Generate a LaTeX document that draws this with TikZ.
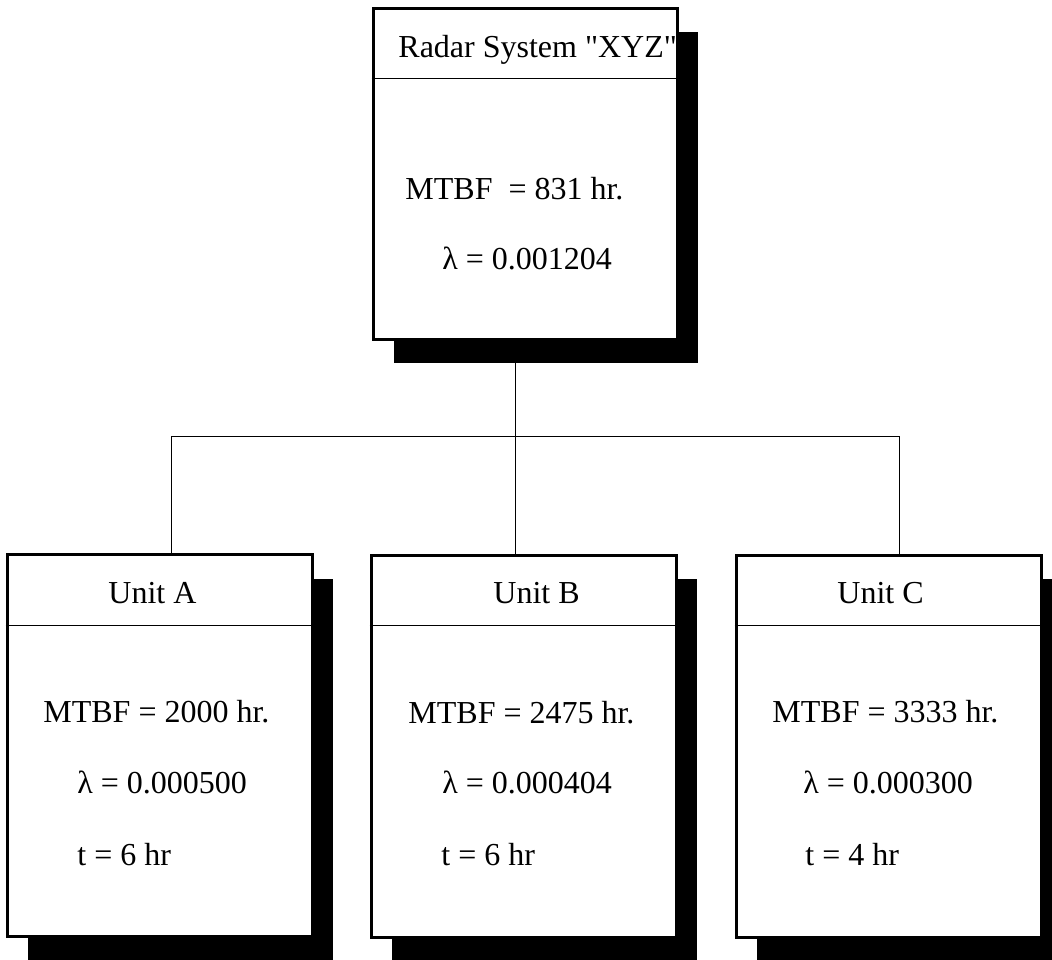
\documentclass[tikz,border=0pt]{standalone}
\usepackage{fontspec}
\setmainfont{Liberation Serif}
\usetikzlibrary{shadows}
% straight double quote, set as a glyph so no ligature mapping curls it
\newcommand\straightdq{\XeTeXglyph\XeTeXcharglyph"22\relax}
\begin{document}
\begin{tikzpicture}[x=0.5pt,y=-0.5pt,
  unitbox/.style={draw=black, line width=1.5pt, fill=white, rectangle,
    inner sep=0pt, minimum width=152.5pt, minimum height=191pt,
    general shadow={fill=black, shadow xshift=10.5pt, shadow yshift=-12pt}},
  sysbox/.style={unitbox, minimum width=152pt, minimum height=165.5pt},
  divider/.style={line width=0.5pt},
  link/.style={line width=0.5pt},
  txt/.style={anchor=base west, inner sep=0pt, font=\fontsize{16}{19}\selectfont}]
\useasboundingbox (0,0) rectangle (1052,959);

% boxes
\node[sysbox]  (sys) at (525,173.5) {};
\node[unitbox] (ua)  at (159.5,745.5) {};
\node[unitbox] (ub)  at (523.5,746) {};
\node[unitbox] (uc)  at (888.5,746) {};

% title separators
\foreach \b in {sys,ua,ub,uc}
  \draw[divider] ([yshift=-36pt]\b.north west) -- ([yshift=-36pt]\b.north east);

% tree connectors
\coordinate (hub) at (515,436);
\coordinate (ja)  at (171,436);
\coordinate (jc)  at (899,436);
\draw[link] (hub |- sys.south) -- (hub |- ub.north);
\draw[link] (ja |- ua.north) -- (ja) -- (jc) -- (jc |- uc.north);

% system box text
\node[txt] (t0) at (398,57)  {Radar System \straightdq XYZ\straightdq};
\node[txt] (m0) at (405,199) {MTBF\ \ = 831 hr.};
\node[txt] (l0) at (442,269) {λ = 0.001204};

% unit A
\node[txt] (ta) at (108,603) {Unit A};
\node[txt] (ma) at (43,722)  {MTBF = 2000 hr.};
\node[txt] (la) at (77,793)  {λ = 0.000500};
\node[txt] (ra) at (77,865)  {t = 6 hr};

% unit B
\node[txt] (tb) at (493,603) {Unit B};
\node[txt] (mb) at (408,723) {MTBF = 2475 hr.};
\node[txt] (lb) at (442,793) {λ = 0.000404};
\node[txt] (rb) at (441,865) {t = 6 hr};

% unit C
\node[txt] (tc) at (837,603) {Unit C};
\node[txt] (mc) at (772,722) {MTBF = 3333 hr.};
\node[txt] (lc) at (803,793) {λ = 0.000300};
\node[txt] (rc) at (805,865) {t = 4 hr};
\end{tikzpicture}
\end{document}
